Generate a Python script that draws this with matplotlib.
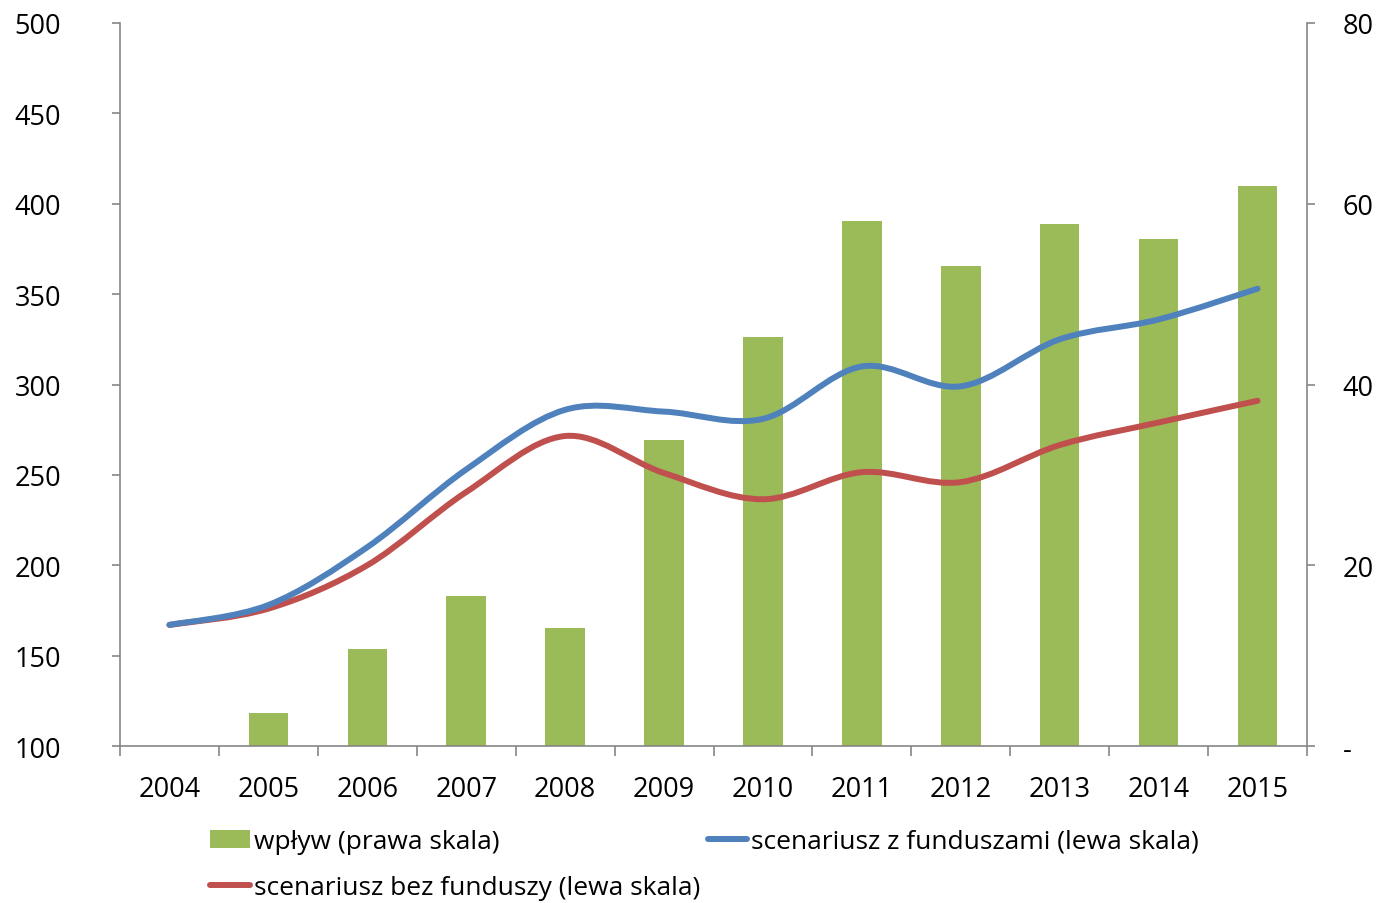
import matplotlib
matplotlib.use("Agg")
import matplotlib.pyplot as plt
from matplotlib.path import Path
from matplotlib.patches import PathPatch, Patch
from matplotlib.lines import Line2D
import numpy as np

years = ["2004", "2005", "2006", "2007", "2008", "2009", "2010", "2011", "2012", "2013", "2014", "2015"]
wplyw = [0, 3.65, 10.7, 16.6, 13.1, 33.9, 45.3, 58.1, 53.1, 57.8, 56.1, 62.0]
z_funduszami = [167, 178, 210, 253, 286, 285, 281, 310, 299, 325, 336, 353]
bez_funduszy = [167, 176, 200, 240.5, 271.5, 251, 236.5, 251.5, 246, 266.5, 279, 291]

labels = ["wpływ (prawa skala)", "scenariusz z funduszami (lewa skala)", "scenariusz bez funduszy (lewa skala)"]
GREEN = "#9BBB59"
BLUE = "#4F81BD"
RED = "#C0504D"
AXC = "#868686"

plt.rcParams["font.family"] = ["Open Sans", "DejaVu Sans"]
FS = 19.5
LFS = 19
LW = 4.3

fig = plt.figure(figsize=(13.78, 9.04), dpi=100)
ax1 = fig.add_axes([120/1378, 1-747/904, (1307-120)/1378, (747-24)/904])
ax2 = ax1.twinx()
ax1.set_zorder(2)
ax1.patch.set_visible(False)

x = np.arange(len(years))
ax2.bar(x, wplyw, width=0.4, color=GREEN, zorder=1)
ax2.set_ylim(0, 80)
ax2.set_yticks([0, 20, 40, 60, 80])
ax2.set_yticklabels(["-", "20", "40", "60", "80"])

def smooth_path(xs, ys):
    pts = np.column_stack([xs, ys]).astype(float)
    n = len(pts)
    verts = [pts[0]]
    codes = [Path.MOVETO]
    for i in range(n - 1):
        p0 = pts[i - 1] if i > 0 else pts[i]
        p1 = pts[i]
        p2 = pts[i + 1]
        p3 = pts[i + 2] if i + 2 < n else pts[i + 1]
        c1 = p1 + (p2 - p0) / 6.0
        c2 = p2 - (p3 - p1) / 6.0
        verts += [c1, c2, p2]
        codes += [Path.CURVE4] * 3
    return Path(verts, codes)

for ys, col in [(bez_funduszy, RED), (z_funduszami, BLUE)]:
    patch = PathPatch(smooth_path(x, ys), fill=False, edgecolor=col, lw=LW,
                      capstyle="round", joinstyle="round", zorder=3)
    ax1.add_patch(patch)

ax1.set_ylim(100, 500)
ax1.set_yticks(np.arange(100, 501, 50))
ax1.set_xlim(-0.5, 11.5)
ax1.set_xticks(x)
ax1.set_xticklabels(years)
ax1.set_xticks(np.arange(-0.5, 12, 1), minor=True)
ax1.tick_params(axis="x", which="major", length=0, pad=21, labelsize=FS)
ax1.tick_params(axis="x", which="minor", length=7, width=1.2, color=AXC, direction="out")
ax1.tick_params(axis="y", length=5.5, width=1.2, color=AXC, pad=37, labelsize=FS)
ax2.tick_params(axis="y", length=5.5, width=1.2, color=AXC, pad=20, labelsize=FS)

for a in (ax1, ax2):
    a.spines["top"].set_visible(False)
    for s in a.spines.values():
        s.set_color(AXC)
        s.set_linewidth(1.2)
ax1.spines["right"].set_visible(False)
ax2.spines["left"].set_visible(False)
ax2.spines["bottom"].set_visible(False)
for lab in ax1.get_yticklabels():
    lab.set_horizontalalignment("right")

handles = [Patch(facecolor=GREEN, edgecolor="none"),
           Line2D([], [], color=RED, lw=LW, solid_capstyle="round"),
           Line2D([], [], color=BLUE, lw=LW, solid_capstyle="round")]
leg_labels = [labels[0], labels[2], labels[1]]
fig.legend(handles, leg_labels, ncol=2, frameon=False, fontsize=LFS,
           loc="upper left", bbox_to_anchor=(210/1378, 1-830/904),
           handlelength=1.5, handletextpad=0.15, columnspacing=0.3,
           labelspacing=0.8, borderpad=0, borderaxespad=0)

fig.savefig("out.png", dpi=100)
